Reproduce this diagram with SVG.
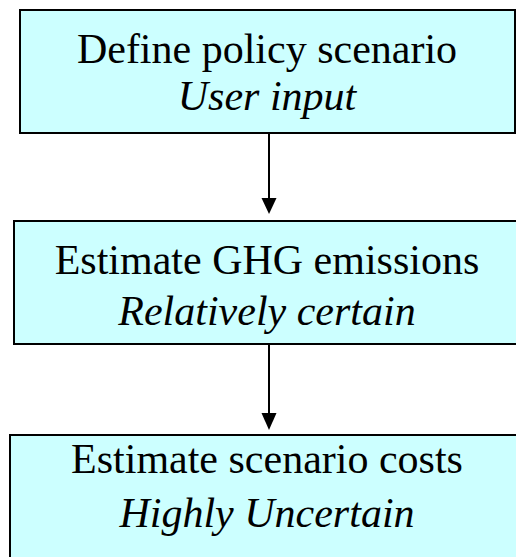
<svg xmlns="http://www.w3.org/2000/svg" width="516" height="557" viewBox="0 0 516 557">
<style>
.box{fill:#CCFFFF;stroke:#000;stroke-width:2}
.t{font-family:"Liberation Serif","Times New Roman",serif;font-size:42px;fill:#000;text-anchor:middle}
.i{font-style:italic}
.c{stroke:#000;stroke-width:2;fill:none}
.ah{fill:#000}
</style>
<rect width="516" height="557" fill="#fff"/>
<g id="node1">
<rect class="box" x="20" y="10" width="495" height="123"/>
<text class="t" x="267" y="63">Define policy scenario</text>
<text class="t i" x="267" y="110">User input</text>
</g>
<g id="node2">
<rect class="box" x="14" y="221" width="510" height="123"/>
<text class="t" x="267" y="274">Estimate GHG emissions</text>
<text class="t i" x="267" y="325">Relatively certain</text>
</g>
<g id="node3">
<rect class="box" x="10" y="435" width="520" height="140"/>
<text class="t" x="267" y="473">Estimate scenario costs</text>
<text class="t i" x="267" y="527">Highly Uncertain</text>
</g>
<g id="connectors">
<line class="c" x1="269" y1="134" x2="269" y2="200"/>
<polygon class="ah" points="261.5,198 276.5,198 269,214"/>
<line class="c" x1="269" y1="345" x2="269" y2="415"/>
<polygon class="ah" points="261.5,413 276.5,413 269,430"/>
</g>
</svg>
